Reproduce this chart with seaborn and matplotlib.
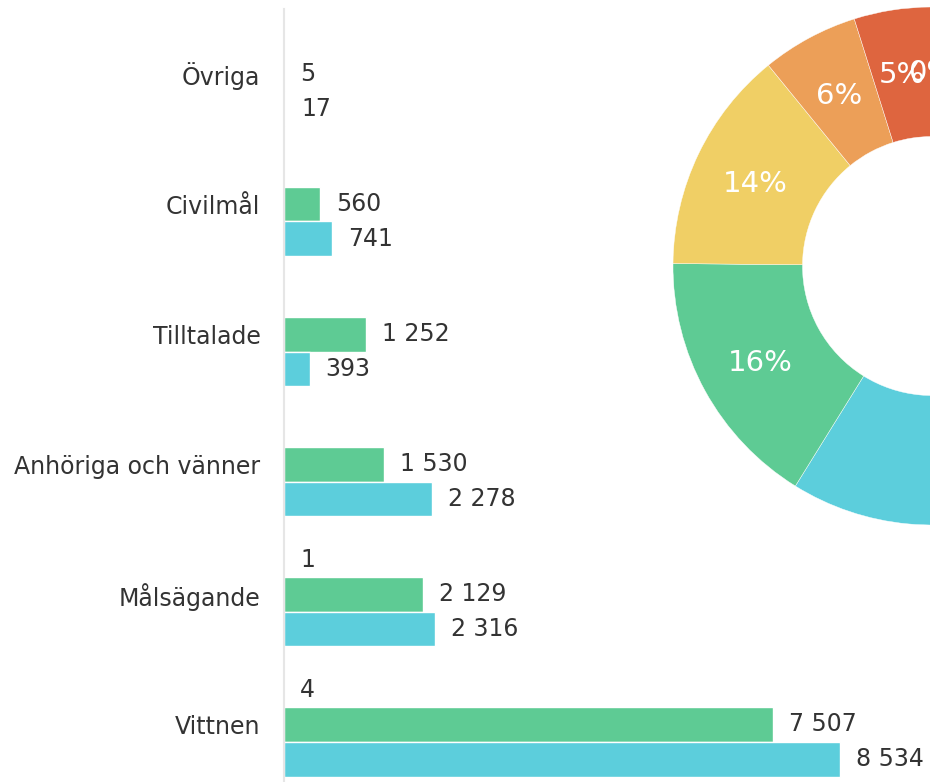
import numpy as np
import pandas as pd
import seaborn as sns
import matplotlib.pyplot as plt
import matplotlib.transforms as mtransforms

# Categories (top to bottom in the bar chart)
categories = ['Övriga', 'Civilmål', 'Tilltalade', 'Anhöriga och vänner', 'Målsägande', 'Vittnen']

# Three series per category (first one is almost empty)
series_names = ['Serie A', 'Serie B', 'Serie C']
serie_a = [np.nan, np.nan, np.nan, np.nan, 1, 4]
serie_b = [5, 560, 1252, 1530, 2129, 7507]
serie_c = [17, 741, 393, 2278, 2316, 8534]

bar_colors = ['#F0CF65', '#5ECB94', '#5CCEDC']

# Donut: slice order clockwise from the top
donut_order = ['Vittnen', 'Målsägande', 'Anhöriga och vänner', 'Tilltalade', 'Civilmål', 'Övriga']
donut_colors = ['#5CCEDC', '#5ECB94', '#F0CF65', '#EC9F58', '#DE653F', '#D0453A']

# --- build long table for seaborn ---
df = pd.DataFrame({
    'kategori': categories * 3,
    'serie': [s for s in series_names for _ in categories],
    'antal': serie_a + serie_b + serie_c,
})

sns.set_theme(style="white")
plt.rcParams['font.family'] = ['DejaVu Sans']

fig = plt.figure(figsize=(9.3, 7.82), dpi=100)

# --- bar chart ---
ax = fig.add_axes([284 / 930, 0, 646 / 930, (782 - 9) / 782])
sns.barplot(data=df.dropna(), y='kategori', x='antal', hue='serie',
            order=categories, hue_order=series_names, palette=bar_colors,
            orient='h', width=0.8, saturation=1, ax=ax, legend=False)

def fmt(v):
    return f"{int(round(v)):,}".replace(",", " ")

for c in ax.containers:
    ax.bar_label(c, labels=[fmt(v) for v in c.datavalues], padding=11.5,
                 fontsize=17, color='#333333')

ax.set_xlim(0, 9916)
ax.set_ylim(5.442, -0.5)
ax.set_xlabel('')
ax.set_ylabel('')
ax.set_xticks([])
ax.tick_params(axis='y', length=0, pad=17, labelsize=17, labelcolor='#333333')
for side in ['top', 'right', 'bottom']:
    ax.spines[side].set_visible(False)
ax.spines['left'].set_color('#e6e6e6')
ax.spines['left'].set_linewidth(1.5)

# --- donut ---
totals = pd.Series(np.nansum([serie_a, serie_b, serie_c], axis=0), index=categories)
ax2 = fig.add_axes([(932 - 259) / 930, (782 - 266 - 259) / 782, 518 / 930, 518 / 782])
wedges, texts, autotexts = ax2.pie(
    totals[donut_order].values, colors=donut_colors, startangle=90, counterclock=False,
    radius=1, autopct='%.0f%%', pctdistance=0.757,
    wedgeprops=dict(width=0.5, edgecolor='white', linewidth=0.3),
    textprops=dict(color='white', fontsize=21))
shift = mtransforms.ScaledTranslation(0, -3 / 100, fig.dpi_scale_trans)
for t in autotexts:
    t.set_transform(t.get_transform() + shift)
ax2.set_xlim(-1, 1)
ax2.set_ylim(-1, 1)
ax2.axis('off')

fig.savefig("out.png", dpi=100)
